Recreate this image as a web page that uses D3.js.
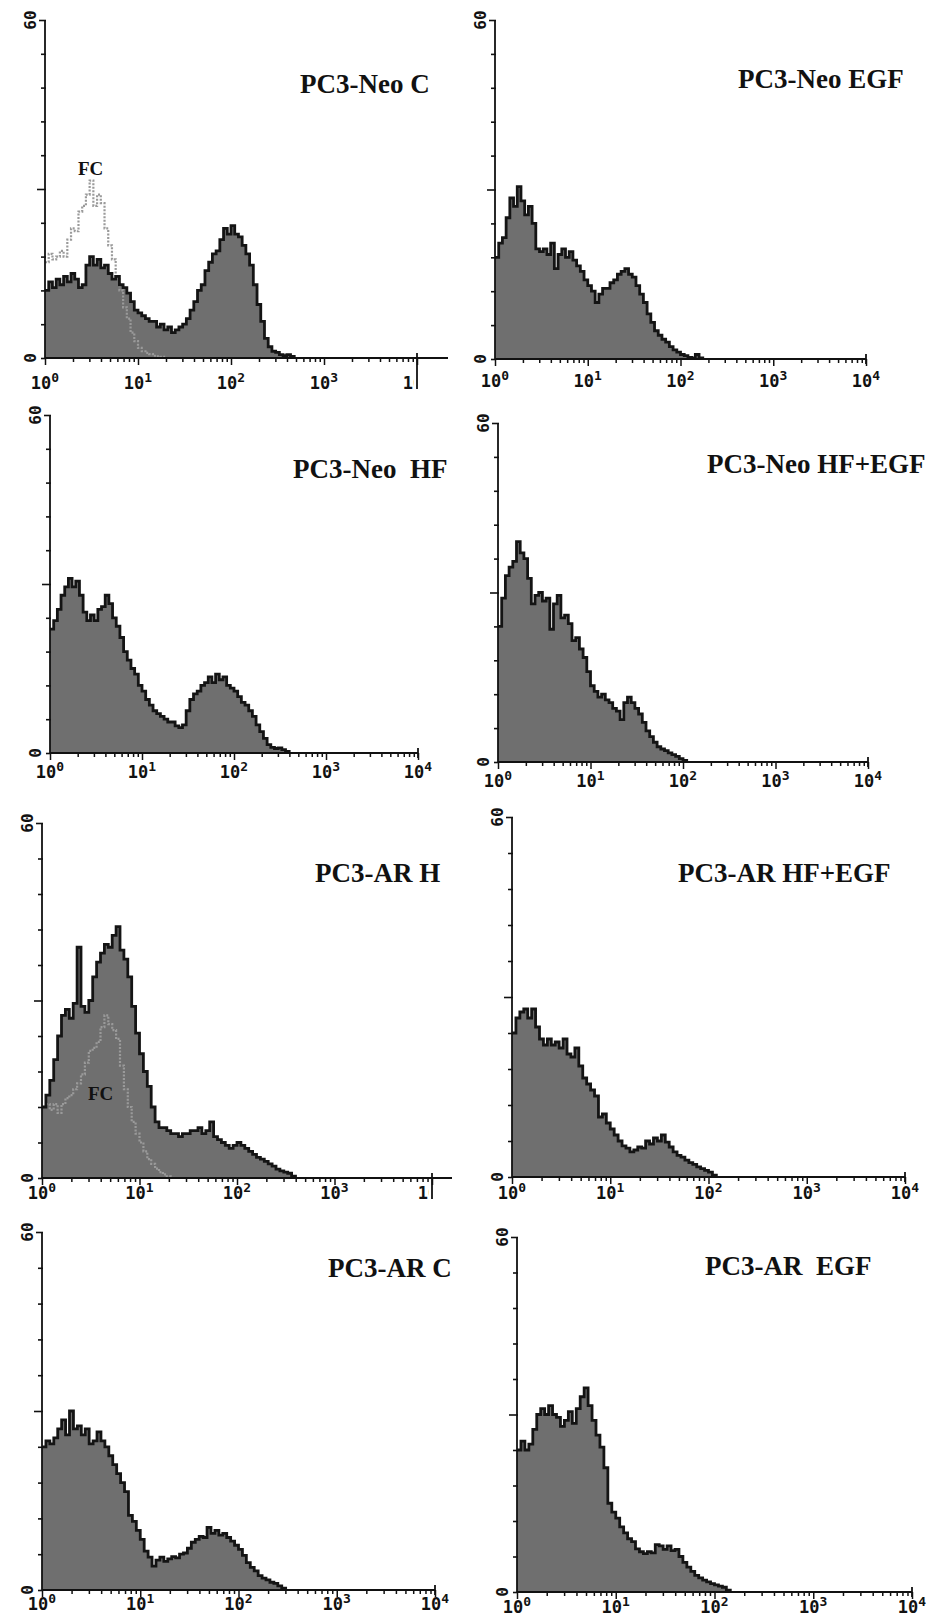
<!DOCTYPE html>
<html>
<head>
<meta charset="utf-8">
<script src="https://cdn.jsdelivr.net/npm/d3@7"></script>
<style>
body { margin: 0; background: #fff; }
text { white-space: pre; }
</style>
</head>
<body>
<script>
// channel counts, 25 channels per decade starting at 10^0
var binsPerDecade = 25;

var neoC = [12,13.5,12.5,14,13,14.5,13.5,15,14,12.5,13,16.5,18,16.5,17.5,16,16.5,15,14,14.5,13,12.5,11.5,10,8.5,8,7.5,7,6.5,6.5,5.5,6,5,5.5,4.5,5,5.5,6,7,8.5,10,12,13,15.5,17,18.5,19,21,23,22,23.5,22,21.5,20,18.5,16.5,13,9.5,6.5,3.5,2,1.2,1,0.6,0.4,0.6,0.3];
var neoCfc = [17,18.5,17.5,18,19,18,21,23,22.5,26,27,29,31.5,27,29,27.5,23,20,17.5,14,12,9,7,4.5,3,1.8,1.2,0.9,0.7,0.4,0.3,0.2];
var neoEGF = [18,20.5,21.5,25,28.5,27,30.5,28,25.5,27,24,19.5,19,19.5,18.5,20.5,16,18.5,19.5,18,19,17.5,16.5,15.5,14,13,12,10,11.5,12.5,12.5,13.5,14,15,15.5,16,15,14.5,13,11.5,10,8,6.5,5,4.2,3.5,3,2.2,1.6,1.2,0.8,0.6,0.3,0.2,0.8,0.2];
var neoHF = [22,23.5,25.5,28,29.5,31,29.5,30.5,28,25,23.5,24.5,23.5,25.5,26,28,26.5,24,22.5,20.5,18,16.5,15,14,12,11,9.5,8.5,7.5,7,6.5,6,5.5,5.5,4.8,4.5,5,7.5,9.5,10.5,11,12,12.5,13.5,12.5,14,13,13.5,12,11.5,11,10,9,8.5,7.5,6.5,5,3.8,2.6,1.5,1,0.8,0.9,0.6,0.3];
var neoHFEGF = [24,29,33,34.5,35.5,39,37,36,32.5,28,29.5,30,28.5,29,23.5,28,29.5,25.5,26,24.5,21.5,22,20,18.5,16,13.5,12.5,11.5,12,11,10.5,9.5,9,7.5,10.5,11.5,10.5,9.5,8.5,7,5.5,4.5,3.5,2.7,2.3,2,1.6,1.3,1,0.6,0.3];
var arH = [12,14,16.5,20,24,27.5,28.5,27,29.5,39,29,28,30,34,36.5,38,39.5,39,41,42.5,38.5,37,34,29,24.5,21,18,15.5,12,9.5,8.5,8.5,8,7.5,7.5,7,7.5,7.5,8,8,8.5,7.5,8,9.5,7,6.5,6,5.5,5,5.5,6,5.5,5,4.5,4,3.5,3.2,2.8,2.4,2,1.5,1.2,1,0.8,0.3];
var arHfc = [12,12.5,11.5,12.5,11,12.5,13.5,14,15,16,17.5,19.5,21.5,22,23,25.5,27.5,26,25,23.5,19,15,12,9.5,7.5,6,4.5,3.2,2.4,1.6,1,0.6,0.3];
var arHFEGF = [24,26.5,27.5,28,26.5,28,25,23,22,23,22,22.5,21.5,23,20.5,20,21.5,18.5,16.5,15.5,14.5,13.5,10,10.5,9,8,7,6,5.2,4.8,4.2,4.5,5,4.8,6,5.5,6.5,6,7,5.8,5,4.2,3.6,3.3,2.8,2.4,2.1,1.7,1.4,1.1,0.8,0.3];
var arC = [24,25,24.5,25.5,27,28.5,26,30,27,27.5,26,27,24.5,25,26.5,25,24,22.5,21,19.5,18,16.5,12.5,11.5,10,8.5,6.5,5.5,4,5,5.5,4.8,5.2,5.6,5.4,6,6.2,7,8,8.5,9,8.8,10.5,9.5,10,9.2,9.5,8.8,8.2,7.5,6.8,5.8,4.6,3.8,3.2,2.4,2,1.7,1.3,1.1,0.7,0.3];
var arEGF = [24,25.5,24,25,27.5,30,31,30,31.5,30,29.5,28,29,30.5,28.5,31,33,34.5,31.5,29,26.5,24.5,21,15,13.5,12.5,11,10,9,8.5,7.3,6.8,6.5,6.8,6.6,8,7.8,7.2,7.8,7,7.2,6,5,4.2,3.5,2.8,2.4,2,1.7,1.4,1.2,1,0.8,0.3];

var titles = ["PC3-Neo C", "PC3-Neo EGF", "PC3-Neo  HF", "PC3-Neo HF+EGF",
              "PC3-AR H", "PC3-AR HF+EGF", "PC3-AR C", "PC3-AR  EGF"];
var decades = [0, 1, 2, 3, 4];
var yMax = 60;
var yTickStep = 6;

var w = 935, h = 1623;

// where each scanned panel sits on the page
var panels = [
  {data: neoC, fc: neoCfc, x0: 45, x4: 417, end: 448, cut: true, top: 20, base: 358, lab: 31, tx: 300, ty: 93, fx: 78, fy: 175},
  {data: neoEGF, x0: 495, x4: 866, end: 866, top: 20, base: 359, lab: 28, tx: 738, ty: 88},
  {data: neoHF, x0: 50, x4: 418, end: 418, top: 415, base: 753, lab: 25, tx: 293, ty: 478},
  {data: neoHFEGF, x0: 498, x4: 868, end: 868, top: 423, base: 762, lab: 25, tx: 707, ty: 473},
  {data: arH, fc: arHfc, x0: 42, x4: 432, end: 452, cut: true, top: 823, base: 1178, lab: 21, tx: 315, ty: 882, fx: 88, fy: 1100},
  {data: arHFEGF, x0: 512, x4: 905, end: 905, top: 817, base: 1177, lab: 22, tx: 678, ty: 882},
  {data: arC, x0: 42, x4: 435, end: 435, top: 1232, base: 1590, lab: 20, tx: 328, ty: 1277},
  {data: arEGF, x0: 517, x4: 912, end: 912, top: 1237, base: 1592, lab: 21, tx: 705, ty: 1275}
];

var svg = d3.select("body")
  .append("svg")
  .attr("width", w)
  .attr("height", h);

svg.append("rect").attr("width", w).attr("height", h).attr("fill", "#fff");

var defs = svg.append("defs");

function steps(arr) {
  var out = arr.map(function(v, i) {
    return [Math.pow(10, i / binsPerDecade), v];
  });
  out.push([Math.pow(10, arr.length / binsPerDecade), 0]);
  return out;
}

panels.forEach(function(p, k) {
  var x = d3.scaleLog().domain([1, 1e4]).range([p.x0, p.x4]);
  var y = d3.scaleLinear().domain([0, yMax]).range([p.base, p.top]);
  var g = svg.append("g");

  var area = d3.area()
    .curve(d3.curveStepAfter)
    .x(function(d) { return x(d[0]); })
    .y0(y(0))
    .y1(function(d) { return y(d[1]); });

  var line = d3.line()
    .curve(d3.curveStepAfter)
    .x(function(d) { return x(d[0]); })
    .y(function(d) { return y(d[1]); });

  g.append("path")
    .datum(steps(p.data))
    .attr("d", area)
    .attr("fill", "#6f6f6f");

  if (p.fc) {
    g.append("path")
      .datum(steps(p.fc))
      .attr("d", line)
      .attr("fill", "none")
      .attr("stroke", "#9a9a9a")
      .attr("stroke-width", 2.2)
      .attr("stroke-dasharray", "2,1.5");
  }

  g.append("path")
    .datum(steps(p.data))
    .attr("d", line)
    .attr("fill", "none")
    .attr("stroke", "#141414")
    .attr("stroke-width", 2.8);

  // y axis
  var ya = g.append("g")
    .attr("transform", "translate(" + p.x0 + ",0)")
    .call(d3.axisLeft(y).tickValues(d3.range(0, yMax + 1, yTickStep)).tickSize(4).tickFormat(""));
  ya.select(".domain").remove();
  ya.selectAll(".tick line")
    .attr("x1", 1)
    .attr("x2", function(d) { return d === 30 ? -8 : (d === yMax ? -6 : -4); })
    .attr("stroke", "#111")
    .attr("stroke-width", 1.6);

  g.append("line")
    .attr("x1", p.x0).attr("x2", p.x0)
    .attr("y1", p.top).attr("y2", p.base)
    .attr("stroke", "#111").attr("stroke-width", 1.8);

  // x axis with log minor ticks
  var minor = [];
  for (var e = 0; e < 4; e++) {
    for (var m = 1; m < 10; m++) minor.push(m * Math.pow(10, e));
  }
  minor.push(1e4);
  var xa = g.append("g")
    .attr("transform", "translate(0," + p.base + ")")
    .call(d3.axisBottom(x).tickValues(minor).tickSize(4).tickFormat(""));
  xa.select(".domain").remove();
  xa.selectAll(".tick line")
    .attr("y2", function(d) { return Math.abs(Math.log10(d) % 1) < 1e-9 ? 7 : 4; })
    .attr("stroke", "#111")
    .attr("stroke-width", 1.5);

  g.append("line")
    .attr("x1", p.x0).attr("x2", p.end)
    .attr("y1", p.base).attr("y2", p.base)
    .attr("stroke", "#111").attr("stroke-width", 1.8);

  // end mark of the x axis
  g.append("line")
    .attr("x1", x(1e4)).attr("x2", x(1e4))
    .attr("y1", p.base - 5).attr("y2", p.cut ? p.base + p.lab : p.base + 5)
    .attr("stroke", "#111").attr("stroke-width", 1.8);

  // decade labels
  var lg = g.append("g");
  if (p.cut) {
    defs.append("clipPath").attr("id", "cut" + k)
      .append("rect").attr("x", 0).attr("y", p.base).attr("width", x(1e4) - 3).attr("height", 40);
    lg.attr("clip-path", "url(#cut" + k + ")");
  }
  var lab = lg.selectAll("text")
    .data(decades)
    .enter()
    .append("text")
    .attr("x", function(d) { return x(Math.pow(10, d)); })
    .attr("y", p.base + p.lab)
    .attr("text-anchor", "middle")
    .attr("font-family", "DejaVu Sans Mono")
    .attr("font-weight", "bold")
    .attr("font-size", "17px")
    .attr("fill", "#111");
  lab.append("tspan").text("10");
  lab.append("tspan").attr("dy", -7).attr("font-size", "13px").text(function(d) { return d; });

  // y labels, turned on their side
  [0, yMax].forEach(function(v) {
    g.append("text")
      .attr("transform", "translate(" + (p.x0 - 9) + "," + y(v) + ") rotate(-90)")
      .attr("text-anchor", "middle")
      .attr("font-family", "DejaVu Sans Mono")
      .attr("font-weight", "bold")
      .attr("font-size", "16px")
      .attr("fill", "#111")
      .text(v);
  });

  g.append("text")
    .attr("x", p.tx)
    .attr("y", p.ty)
    .attr("font-family", "Liberation Serif")
    .attr("font-weight", "bold")
    .attr("font-size", "27px")
    .attr("fill", "#111")
    .text(titles[k]);

  if (p.fc) {
    g.append("text")
      .attr("x", p.fx)
      .attr("y", p.fy)
      .attr("font-family", "Liberation Serif")
      .attr("font-weight", "bold")
      .attr("font-size", "19px")
      .attr("fill", "#111")
      .text("FC");
  }
});
</script>
</body>
</html>
